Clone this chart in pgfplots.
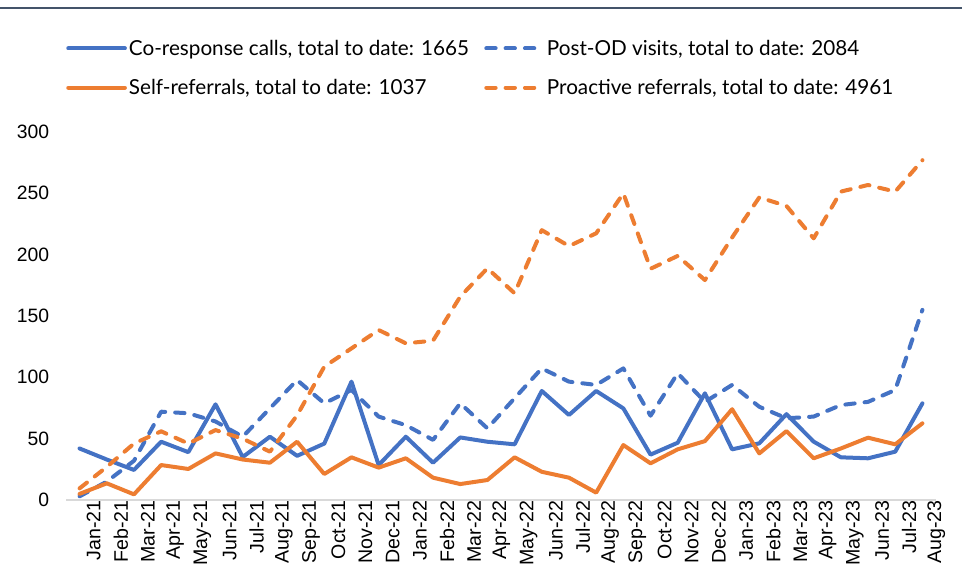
\documentclass[border=0pt]{standalone}
\usepackage{fontspec}
\setmainfont{Liberation Sans}
\newfontfamily\lato{Lato}
\usepackage{pgfplots}
\usepackage{pgfplotstable}
\pgfplotsset{compat=1.18}
\definecolor{cblue}{RGB}{68,114,196}
\definecolor{corange}{RGB}{237,125,49}
\definecolor{frameline}{RGB}{68,84,106}
\definecolor{axgray}{RGB}{217,217,217}

\pgfplotstableread{
i co self post pro
0  42   5    3    9.5
1  33   13.6 15   27
2  24.5 4.6  32   46
3  47.5 28.5 72   56
4  39   25.3 70.7 46
5  78   38   64   57
6  35   33   51.6 50
7  51.6 30.4 74.7 39.4
8  36   47.5 97.8 69
9  46   21.2 78.8 108.7
10 96.5 34.8 89.7 123.6
11 28.5 26.4 68   138.6
12 51.6 34   61   127.7
13 30.4 18.2 49   129.9
14 51   13   78.8 165.8
15 47.5 16.3 58.4 188.9
16 45.4 34.8 83   168.5
17 88.9 23   107.3 220
18 69.3 18.2 96.5 207
19 88.9 6    93.8 217.4
20 74.7 44.8 107.3 250
21 37   29.9 68.7 188.5
22 46.7 41.3 103.3 199
23 87   48   80   179.3
24 41.3 74   93.8 214
25 46.2 38   76   246.7
26 70   56.2 66.6 239.7
27 47.6 34   68   213.3
28 34.8 42   77.4 251.4
29 34   50.8 80   256.8
30 39.4 45.4 89.7 251.4
31 78.8 62.5 155  277
}\data

\begin{document}
\begin{tikzpicture}
\begin{axis}[
  scale only axis,
  width=652.5pt, height=276pt,
  xmin=-0.5, xmax=31.5, ymin=0, ymax=300,
  axis lines*=left,
  x axis line style={draw=axgray, line width=0.9pt},
  y axis line style={draw=none},
  ytick={0,50,...,300},
  ytick style={draw=none},
  yticklabel style={font=\fontsize{14.5}{16}\selectfont, inner sep=0pt, anchor=east, xshift=-12.5pt},
  /pgf/number format/assume math mode=true,
  xtick={0,...,31},
  xticklabels={Jan-21,Feb-21,Mar-21,Apr-21,May-21,Jun-21,Jul-21,Aug-21,Sep-21,Oct-21,Nov-21,Dec-21,Jan-22,Feb-22,Mar-22,Apr-22,May-22,Jun-22,Jul-22,Aug-22,Sep-22,Oct-22,Nov-22,Dec-22,Jan-23,Feb-23,Mar-23,Apr-23,May-23,Jun-23,Jul-23,Aug-23},
  xticklabel style={font=\fontsize{14.7}{16}\selectfont, rotate=90, anchor=east, inner sep=0pt, yshift=-10.5pt},
  xtick style={draw=none},
  extra x ticks={-0.5,0.5,...,31.5},
  extra x tick labels={},
  extra x tick style={tick align=outside, major tick length=5.5pt, tick style={draw=axgray, line width=0.9pt}},
  clip=false,
  legend columns=2,
  legend cell align=left,
  legend style={draw=none, fill=none, at={(axis description cs:0.0,1.2565)}, anchor=north west,
    font=\lato\fontsize{15.5}{18}\selectfont, row sep=13.5pt, inner sep=0pt,
    nodes={inner sep=1.5pt},
    /tikz/every even column/.append style={column sep=10pt}},
  legend image code/.code={\draw[#1] (1.5pt,0pt) -- (44pt,0pt);},
  every axis plot/.append style={line width=3pt, line join=round},
]
\addplot[cblue, line cap=round] table[x=i, y=co] {\data};
\addlegendentry{Co-response calls, total to date: 1665}
\addplot[cblue, line cap=round, dash pattern=on 7pt off 7.5pt] table[x=i, y=post] {\data};
\addlegendentry{Post-OD visits, total to date: 2084}
\addplot[corange, line cap=round] table[x=i, y=self] {\data};
\addlegendentry{Self-referrals, total to date: 1037}
\addplot[corange, line cap=round, dash pattern=on 7pt off 7.5pt] table[x=i, y=pro] {\data};
\addlegendentry{Proactive referrals, total to date: 4961}
\end{axis}
\draw[frameline, line width=1.6pt] (-49.5pt,369pt) -- (672pt,369pt);
\pgfresetboundingbox
\useasboundingbox (-49.5pt,-59.25pt) rectangle (672pt,375pt);
\end{tikzpicture}
\end{document}
